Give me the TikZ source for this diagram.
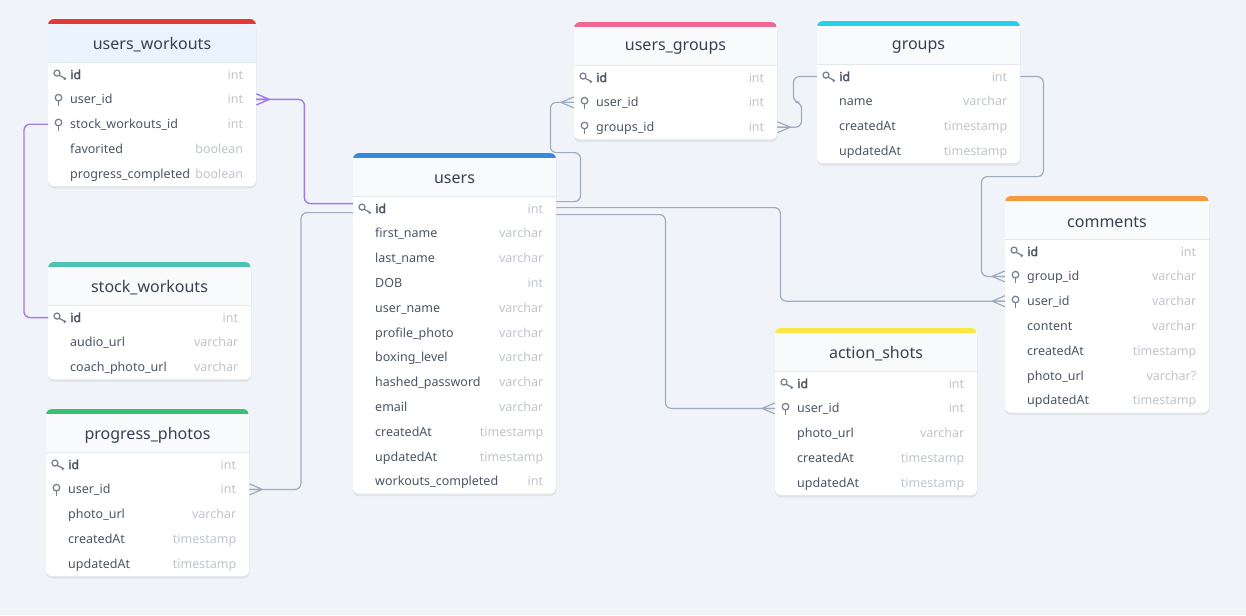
\documentclass[tikz,border=0pt]{standalone}
\usepackage{fontspec}
\setmainfont{Noto Sans}
\newfontfamily\pkfont{Noto Sans}[FakeBold=2.2]
\usepackage{tikz}
\usetikzlibrary{positioning,calc}
\definecolor{canvas}{RGB}{240,244,248}
\definecolor{headgray}{RGB}{248,250,252}
\definecolor{headblue}{RGB}{234,243,254}
\definecolor{sepgray}{RGB}{226,232,240}
\definecolor{titlegray}{RGB}{55,65,81}
\definecolor{fieldgray}{RGB}{75,85,99}
\definecolor{typegray}{RGB}{192,197,203}
\definecolor{icongray}{RGB}{120,128,140}
\definecolor{linkgray}{RGB}{160,172,190}
\definecolor{linkpurple}{RGB}{160,124,235}
\definecolor{barred}{RGB}{229,57,53}
\definecolor{barblue}{RGB}{52,139,222}
\definecolor{barpink}{RGB}{240,104,146}
\definecolor{barcyan}{RGB}{38,208,234}
\definecolor{barorange}{RGB}{245,152,62}
\definecolor{baryellow}{RGB}{253,232,67}
\definecolor{barteal}{RGB}{78,193,176}
\definecolor{bargreen}{RGB}{56,193,114}
\tikzset{
  cardshadow/.style={fill=black, opacity=0.06, rounded corners=6pt},
  sepline/.style={draw=sepgray, line width=0.8pt},
  tabletitle/.style={font=\fontsize{16}{19}\selectfont, text=titlegray, inner sep=0pt},
  fieldrow/.style={minimum height=24.8pt, inner sep=0pt},
  fieldname/.style={font=\fontsize{12.5}{15}\selectfont, text=fieldgray, inner sep=0pt,
                    text height=9pt, text depth=3pt, yshift=-1.5pt},
  fieldtype/.style={fieldname, text=typegray},
  icon/.style={draw=icongray, line width=1.25pt},
  relline/.style={draw=linkgray, line width=1.2pt, rounded corners=6pt},
  relpurple/.style={relline, draw=linkpurple, line width=1.4pt},
  keyicon/.pic={\draw[icon] (0,-1.5) circle[radius=3pt];
                \draw[icon] (2.2,0.8) -- (9,4.2) (7,3.2) -- (7.6,5.4);},
  pinicon/.pic={\draw[icon] (0,-1.7) circle[radius=3.3pt];
                \draw[icon] (0,1.6) -- (0,6.8);},
  crowfoot/.pic={\draw[pic actions] (-13,0) -- (0,-5.5) (-13,0) -- (0,0) (-13,0) -- (0,5.5);}
}
\def\pkmark{pk}
\def\fkmark{fk}
% #1 name, #2 title, #3 left, #4 top, #5 width, #6 bar colour, #7 header fill, #8 rows, #9 fields
\newcommand{\erdtable}[9]{%
  \pgfmathsetmacro{\tbot}{#4+43+24.8*#8}
  \pgfmathsetmacro{\tright}{#3+#5}
  \fill[cardshadow] (#3,#4+2) rectangle (\tright+0.5,\tbot+2.5);
  \fill[white, rounded corners=6pt] (#3,#4) rectangle (\tright,\tbot);
  \begin{scope}
    \clip[rounded corners=6pt] (#3,#4) rectangle (\tright,\tbot);
    \fill[#7] (#3,#4) rectangle (\tright,#4+43);
    \fill[#6] (#3,#4) rectangle (\tright,#4+5);
  \end{scope}
  \draw[sepline] (#3,#4+43) -- (\tright,#4+43);
  \node[tabletitle] (#1) at (#3+#5/2,#4+26) {#2};
  \foreach \fname/\ftype/\fkey [count=\i from 0] in {#9} {
    \node[fieldrow, minimum width=#5pt, anchor=north west] (#1-\fname) at (#3,#4+43+24.8*\i) {};
    \ifx\fkey\pkmark\def\fweight{\pkfont}\else\def\fweight{}\fi
    \node[fieldname, anchor=west] at ([xshift=22pt]#1-\fname.west) {\fweight\fname};
    \node[fieldtype, anchor=east] at ([xshift=-13pt]#1-\fname.east) {\ftype};
    \ifx\fkey\pkmark\pic at ([xshift=9pt]#1-\fname.west) {keyicon};\fi
    \ifx\fkey\fkmark\pic at ([xshift=10.5pt]#1-\fname.west) {pinicon};\fi
  }
}
\begin{document}
\catcode`\_=12
\begin{tikzpicture}[x=1pt,y=-1pt]
  \fill[canvas] (0,0) rectangle (1246,615);
  \useasboundingbox (0,0) rectangle (1246,615);

  \erdtable{uw}{users_workouts}{48}{19}{208}{barred}{headblue}{5}{%
    id/int/pk, user_id/int/fk, stock_workouts_id/int/fk,
    favorited/boolean/-, progress_completed/boolean/-}
  \erdtable{users}{users}{353}{153}{203}{barblue}{headgray}{12}{%
    id/int/pk, first_name/varchar/-, last_name/varchar/-, DOB/int/-,
    user_name/varchar/-, profile_photo/varchar/-, boxing_level/varchar/-,
    hashed_password/varchar/-, email/varchar/-, createdAt/timestamp/-,
    updatedAt/timestamp/-, workouts_completed/int/-}
  \erdtable{ug}{users_groups}{574}{22}{203}{barpink}{headgray}{3}{%
    id/int/pk, user_id/int/fk, groups_id/int/fk}
  \erdtable{groups}{groups}{817}{21}{203}{barcyan}{headgray}{4}{%
    id/int/pk, name/varchar/-, createdAt/timestamp/-, updatedAt/timestamp/-}
  \erdtable{comments}{comments}{1005}{196}{204}{barorange}{headgray}{7}{%
    id/int/pk, group_id/varchar/fk, user_id/varchar/fk, content/varchar/-,
    createdAt/timestamp/-, photo_url/varchar?/-, updatedAt/timestamp/-}
  \erdtable{shots}{action_shots}{775}{328}{202}{baryellow}{headgray}{5}{%
    id/int/pk, user_id/int/fk, photo_url/varchar/-,
    createdAt/timestamp/-, updatedAt/timestamp/-}
  \erdtable{stock}{stock_workouts}{48}{262}{203}{barteal}{headgray}{3}{%
    id/int/pk, audio_url/varchar/-, coach_photo_url/varchar/-}
  \erdtable{photos}{progress_photos}{46}{409}{203}{bargreen}{headgray}{5}{%
    id/int/pk, user_id/int/fk, photo_url/varchar/-,
    createdAt/timestamp/-, updatedAt/timestamp/-}

  % relations
  \draw[relpurple] (uw-user_id.east) -- ++(48,0) |- ([yshift=5pt]users-id.west);
  \pic[relpurple, xscale=-1] at (uw-user_id.east) {crowfoot};
  \draw[relpurple] (stock-id.west) -- ++(-24,0) |- (uw-stock_workouts_id.west);

  \draw[relline] ([yshift=7pt]users-id.east) -- ++(24,0) -- ++(0,-49) -- ++(-30,0)
    |- (ug-user_id.west);
  \pic[relline] at (ug-user_id.west) {crowfoot};
  \draw[relline] (ug-groups_id.east) -- ++(24,0) -- ++(0,-25) -- ++(-8,0)
    |- (groups-id.west);
  \pic[relline, xscale=-1] at (ug-groups_id.east) {crowfoot};
  \draw[relline] (groups-id.east) -- ++(23,0) -- ++(0,100) -- ++(-62,0)
    |- (comments-group_id.west);
  \pic[relline] at (comments-group_id.west) {crowfoot};
  \draw[relline] ([yshift=1pt]users-id.east) -- ++(224,0) |- (comments-user_id.west);
  \pic[relline] at (comments-user_id.west) {crowfoot};
  \draw[relline] ([yshift=-6pt]users-id.east) -- ++(109,0) |- (shots-user_id.west);
  \pic[relline] at (shots-user_id.west) {crowfoot};
  \draw[relline] ([yshift=-4pt]users-id.west) -- ++(-52,0) |- (photos-user_id.east);
  \pic[relline, xscale=-1] at (photos-user_id.east) {crowfoot};
\end{tikzpicture}
\end{document}
